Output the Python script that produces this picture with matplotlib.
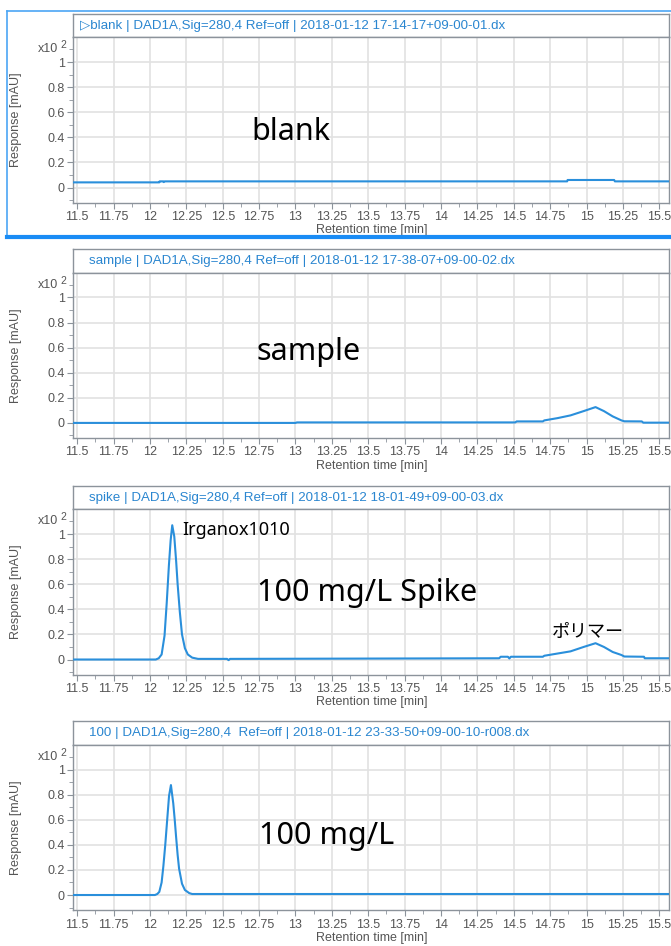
import numpy as np
import matplotlib
matplotlib.use("Agg")
import matplotlib.pyplot as plt
from matplotlib.ticker import MultipleLocator, FixedLocator
from matplotlib.lines import Line2D

plt.rcParams['font.family'] = ['Liberation Sans', 'DejaVu Sans']

# ---------------- data ----------------
blank_t = [11.473, 12.064, 12.066, 12.09, 12.095, 12.10, 14.867, 14.87, 15.19, 15.195, 15.569]
blank_y = [0.041, 0.041, 0.049, 0.049, 0.043, 0.049, 0.049, 0.06, 0.06, 0.049, 0.049]

sample_t = [11.473, 13.0, 13.01, 14.51, 14.52, 14.70, 14.71, 14.80, 14.89, 14.98, 15.062,
            15.12, 15.18, 15.24, 15.26, 15.38, 15.39, 15.569]
sample_y = [0.0, 0.0, 0.004, 0.004, 0.012, 0.012, 0.02, 0.038, 0.06, 0.094, 0.126,
            0.094, 0.052, 0.02, 0.013, 0.012, 0.002, 0.002]

spike_t = [11.473, 12.04, 12.06, 12.08, 12.10, 12.115, 12.13, 12.142, 12.153, 12.167, 12.18,
           12.19, 12.205, 12.22, 12.24, 12.26, 12.29, 12.33, 12.53, 12.54, 12.55, 14.40,
           14.41, 14.46, 14.47, 14.48, 14.70, 14.71, 14.89, 14.98, 15.062, 15.12, 15.18,
           15.24, 15.26, 15.395, 15.40, 15.569]
spike_y = [0.0, 0.0, 0.01, 0.04, 0.19, 0.45, 0.75, 0.95, 1.07, 0.98, 0.78,
           0.6, 0.38, 0.2, 0.09, 0.04, 0.015, 0.005, 0.005, -0.005, 0.005, 0.01,
           0.022, 0.022, 0.008, 0.022, 0.022, 0.03, 0.065, 0.10, 0.13, 0.10, 0.06,
           0.036, 0.024, 0.022, 0.01, 0.01]

std_t = [11.473, 12.034, 12.05, 12.064, 12.08, 12.092, 12.105, 12.115, 12.131, 12.144, 12.16,
         12.17, 12.179, 12.19, 12.20, 12.22, 12.24, 12.27, 12.29, 15.569]
std_y = [0.0, 0.0, 0.008, 0.025, 0.1, 0.23, 0.4, 0.55, 0.79, 0.876, 0.73,
         0.6, 0.47, 0.32, 0.21, 0.09, 0.04, 0.015, 0.008, 0.008]

headers = [
    "\u25b7blank | DAD1A,Sig=280,4 Ref=off | 2018-01-12 17-14-17+09-00-01.dx",
    "sample | DAD1A,Sig=280,4 Ref=off | 2018-01-12 17-38-07+09-00-02.dx",
    "spike | DAD1A,Sig=280,4 Ref=off | 2018-01-12 18-01-49+09-00-03.dx",
    "100 | DAD1A,Sig=280,4  Ref=off | 2018-01-12 23-33-50+09-00-10-r008.dx",
]
big_labels = ["blank", "sample", "100 mg/L Spike", "100 mg/L"]
big_label_pos = [(12.70, 0.38), (12.73, 0.50), (12.735, 0.47), (12.75, 0.41)]
xticks = [11.5, 11.75, 12, 12.25, 12.5, 12.75, 13, 13.25, 13.5, 13.75, 14, 14.25, 14.5,
          14.75, 15, 15.25, 15.5]
xtick_labels = ["11.5", "11.75", "12", "12.25", "12.5", "12.75", "13", "13.25", "13.5",
                "13.75", "14", "14.25", "14.5", "14.75", "15", "15.25", "15.5"]
yticks = [0, 0.2, 0.4, 0.6, 0.8, 1]
ytick_labels = ["0", "0.2", "0.4", "0.6", "0.8", "1"]

series = [(blank_t, blank_y), (sample_t, sample_y), (spike_t, spike_y), (std_t, std_y)]

# ---------------- style ----------------
W, H = 671, 946
line_c = "#2a8fdb"
head_c = "#2a86d0"
frame_c = "#8c939b"
grid_c = "#e2e2e2"
txt_c = "#555555"
big_font = ['Noto Sans', 'Noto Sans CJK JP']

fig = plt.figure(figsize=(W / 100, H / 100), dpi=100)

def px_axes(left, top, width, height):
    return fig.add_axes([left / W, 1 - (top + height) / H, width / W, height / H])

plot_left, plot_right = 73.3, 669.3
plot_w = plot_right - plot_left
head_h, plot_h = 23.3, 165.4
head_tops = [14, 249.4, 486, 721.5]
head_x = [80, 89, 89, 89]

for i, top in enumerate(head_tops):
    # header strip
    hax = px_axes(plot_left, top, plot_w, head_h)
    hax.set_xticks([]); hax.set_yticks([])
    for s in hax.spines.values():
        s.set_color(frame_c); s.set_linewidth(1.0)
    hax.text((head_x[i] - plot_left) / plot_w, 0.5, headers[i], transform=hax.transAxes,
             ha='left', va='center', color=head_c, fontsize=9.6)

    # chromatogram
    ax = px_axes(plot_left, top + head_h, plot_w, plot_h)
    t, y = series[i]
    ax.plot(t, y, color=line_c, lw=1.5, zorder=3)
    ax.set_xlim(11.473, 15.569)
    ax.set_ylim(-0.121, 1.197)
    ax.set_xticks(xticks)
    ax.set_xticklabels(xtick_labels)
    ax.xaxis.set_minor_locator(MultipleLocator(0.125))
    ax.set_yticks(yticks)
    ax.set_yticklabels(ytick_labels)
    ax.yaxis.set_minor_locator(FixedLocator([-0.1, 0.1, 0.3, 0.5, 0.7, 0.9, 1.1]))
    ax.grid(True, which='major', color=grid_c, lw=1.2, zorder=0)
    ax.set_axisbelow(True)
    ax.tick_params(which='both', direction='out', color=frame_c, labelcolor=txt_c,
                   labelsize=9, pad=2)
    ax.tick_params(which='major', length=4)
    ax.tick_params(which='minor', length=3)
    for s in ax.spines.values():
        s.set_color(frame_c); s.set_linewidth(1.0)
    ax.set_xlabel("Retention time [min]", color=txt_c, fontsize=9, labelpad=1)
    ax.set_ylabel("Response [mAU]", color=txt_c, fontsize=9)
    ax.yaxis.set_label_coords((22 - plot_left) / plot_w, 0.5)
    ytr = ax.get_yaxis_transform()
    ax.annotate("x10", xy=(0, 1.1), xycoords=ytr, xytext=(-15, 0),
                textcoords='offset pixels', ha='right', va='center', color=txt_c, fontsize=9)
    ax.annotate("2", xy=(0, 1.1), xycoords=ytr, xytext=(-7, 4),
                textcoords='offset pixels', ha='right', va='center', color=txt_c, fontsize=7.5)
    ax.text(big_label_pos[i][0], big_label_pos[i][1], big_labels[i], ha='left',
            va='baseline', fontsize=22, family=big_font, color='black', zorder=4)
    if i == 2:
        ax.text(12.225, 0.99, "Irganox1010", ha='left', va='baseline', fontsize=13,
                family=big_font, color='black', zorder=4)
        ax.text(14.76, 0.22, "ポリマー", ha='left', va='center', fontsize=13,
                family=big_font, color='black', zorder=4)

# selected-panel frame around the first chromatogram
fx = lambda v: v / W
fy = lambda v: 1 - v / H
fig.add_artist(Line2D([fx(7.3), fx(7.3)], [fy(10.7), fy(237.3)], color="#4ba6f5", lw=1.2))
fig.add_artist(Line2D([fx(7.3), fx(672)], [fy(10.7), fy(10.7)], color="#4ba6f5", lw=1.2))
fig.add_artist(Line2D([fx(7.3), fx(672)], [fy(237.3), fy(237.3)], color="#1a8cf5", lw=3))

fig.savefig("out.png", dpi=100)
